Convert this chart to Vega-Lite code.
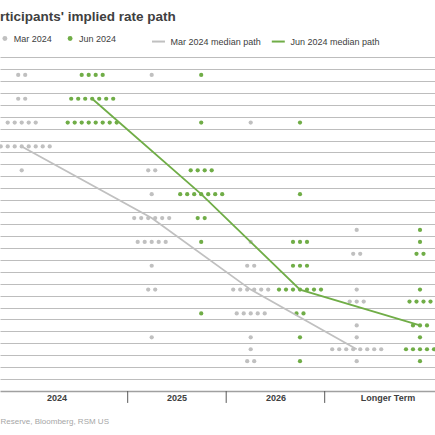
{
  "$schema": "https://vega.github.io/schema/vega-lite/v6.json",
  "width": 435,
  "height": 334,
  "autosize": "none",
  "padding": {"left": 0, "top": 57, "right": 0, "bottom": 44},
  "background": "white",
  "config": {"view": {"stroke": null}, "font": "Liberation Sans"},
  "title": {
    "text": "rticipants' implied rate path",
    "anchor": "start",
    "frame": "group",
    "fontSize": 13.5,
    "fontWeight": "bold",
    "color": "#404040",
    "offset": 10
  },
  "datasets": {
    "dots": [
      {"period": "2024", "release": "Mar 2024", "rate": 5.375, "n": 1},
      {"period": "2024", "release": "Mar 2024", "rate": 5.375, "n": 1},
      {"period": "2024", "release": "Mar 2024", "rate": 5.125, "n": 1},
      {"period": "2024", "release": "Mar 2024", "rate": 5.125, "n": 1},
      {"period": "2024", "release": "Mar 2024", "rate": 4.875, "n": 1},
      {"period": "2024", "release": "Mar 2024", "rate": 4.875, "n": 1},
      {"period": "2024", "release": "Mar 2024", "rate": 4.875, "n": 1},
      {"period": "2024", "release": "Mar 2024", "rate": 4.875, "n": 1},
      {"period": "2024", "release": "Mar 2024", "rate": 4.875, "n": 1},
      {"period": "2024", "release": "Mar 2024", "rate": 4.625, "n": 1},
      {"period": "2024", "release": "Mar 2024", "rate": 4.625, "n": 1},
      {"period": "2024", "release": "Mar 2024", "rate": 4.625, "n": 1},
      {"period": "2024", "release": "Mar 2024", "rate": 4.625, "n": 1},
      {"period": "2024", "release": "Mar 2024", "rate": 4.625, "n": 1},
      {"period": "2024", "release": "Mar 2024", "rate": 4.625, "n": 1},
      {"period": "2024", "release": "Mar 2024", "rate": 4.625, "n": 1},
      {"period": "2024", "release": "Mar 2024", "rate": 4.625, "n": 1},
      {"period": "2024", "release": "Mar 2024", "rate": 4.625, "n": 1},
      {"period": "2024", "release": "Mar 2024", "rate": 4.375, "n": 1},
      {"period": "2024", "release": "Jun 2024", "rate": 5.375, "n": 1},
      {"period": "2024", "release": "Jun 2024", "rate": 5.375, "n": 1},
      {"period": "2024", "release": "Jun 2024", "rate": 5.375, "n": 1},
      {"period": "2024", "release": "Jun 2024", "rate": 5.375, "n": 1},
      {"period": "2024", "release": "Jun 2024", "rate": 5.125, "n": 1},
      {"period": "2024", "release": "Jun 2024", "rate": 5.125, "n": 1},
      {"period": "2024", "release": "Jun 2024", "rate": 5.125, "n": 1},
      {"period": "2024", "release": "Jun 2024", "rate": 5.125, "n": 1},
      {"period": "2024", "release": "Jun 2024", "rate": 5.125, "n": 1},
      {"period": "2024", "release": "Jun 2024", "rate": 5.125, "n": 1},
      {"period": "2024", "release": "Jun 2024", "rate": 5.125, "n": 1},
      {"period": "2024", "release": "Jun 2024", "rate": 4.875, "n": 1},
      {"period": "2024", "release": "Jun 2024", "rate": 4.875, "n": 1},
      {"period": "2024", "release": "Jun 2024", "rate": 4.875, "n": 1},
      {"period": "2024", "release": "Jun 2024", "rate": 4.875, "n": 1},
      {"period": "2024", "release": "Jun 2024", "rate": 4.875, "n": 1},
      {"period": "2024", "release": "Jun 2024", "rate": 4.875, "n": 1},
      {"period": "2024", "release": "Jun 2024", "rate": 4.875, "n": 1},
      {"period": "2024", "release": "Jun 2024", "rate": 4.875, "n": 1},
      {"period": "2025", "release": "Mar 2024", "rate": 5.375, "n": 1},
      {"period": "2025", "release": "Mar 2024", "rate": 4.375, "n": 1},
      {"period": "2025", "release": "Mar 2024", "rate": 4.375, "n": 1},
      {"period": "2025", "release": "Mar 2024", "rate": 4.125, "n": 1},
      {"period": "2025", "release": "Mar 2024", "rate": 3.875, "n": 1},
      {"period": "2025", "release": "Mar 2024", "rate": 3.875, "n": 1},
      {"period": "2025", "release": "Mar 2024", "rate": 3.875, "n": 1},
      {"period": "2025", "release": "Mar 2024", "rate": 3.875, "n": 1},
      {"period": "2025", "release": "Mar 2024", "rate": 3.875, "n": 1},
      {"period": "2025", "release": "Mar 2024", "rate": 3.875, "n": 1},
      {"period": "2025", "release": "Mar 2024", "rate": 3.625, "n": 1},
      {"period": "2025", "release": "Mar 2024", "rate": 3.625, "n": 1},
      {"period": "2025", "release": "Mar 2024", "rate": 3.625, "n": 1},
      {"period": "2025", "release": "Mar 2024", "rate": 3.625, "n": 1},
      {"period": "2025", "release": "Mar 2024", "rate": 3.625, "n": 1},
      {"period": "2025", "release": "Mar 2024", "rate": 3.375, "n": 1},
      {"period": "2025", "release": "Mar 2024", "rate": 3.125, "n": 1},
      {"period": "2025", "release": "Mar 2024", "rate": 3.125, "n": 1},
      {"period": "2025", "release": "Mar 2024", "rate": 2.625, "n": 1},
      {"period": "2025", "release": "Jun 2024", "rate": 5.375, "n": 1},
      {"period": "2025", "release": "Jun 2024", "rate": 4.875, "n": 1},
      {"period": "2025", "release": "Jun 2024", "rate": 4.375, "n": 1},
      {"period": "2025", "release": "Jun 2024", "rate": 4.375, "n": 1},
      {"period": "2025", "release": "Jun 2024", "rate": 4.375, "n": 1},
      {"period": "2025", "release": "Jun 2024", "rate": 4.375, "n": 1},
      {"period": "2025", "release": "Jun 2024", "rate": 4.125, "n": 1},
      {"period": "2025", "release": "Jun 2024", "rate": 4.125, "n": 1},
      {"period": "2025", "release": "Jun 2024", "rate": 4.125, "n": 1},
      {"period": "2025", "release": "Jun 2024", "rate": 4.125, "n": 1},
      {"period": "2025", "release": "Jun 2024", "rate": 4.125, "n": 1},
      {"period": "2025", "release": "Jun 2024", "rate": 4.125, "n": 1},
      {"period": "2025", "release": "Jun 2024", "rate": 4.125, "n": 1},
      {"period": "2025", "release": "Jun 2024", "rate": 3.875, "n": 1},
      {"period": "2025", "release": "Jun 2024", "rate": 3.875, "n": 1},
      {"period": "2025", "release": "Jun 2024", "rate": 3.625, "n": 1},
      {"period": "2025", "release": "Jun 2024", "rate": 2.875, "n": 1},
      {"period": "2026", "release": "Mar 2024", "rate": 4.875, "n": 1},
      {"period": "2026", "release": "Mar 2024", "rate": 3.625, "n": 1},
      {"period": "2026", "release": "Mar 2024", "rate": 3.375, "n": 1},
      {"period": "2026", "release": "Mar 2024", "rate": 3.375, "n": 1},
      {"period": "2026", "release": "Mar 2024", "rate": 3.125, "n": 1},
      {"period": "2026", "release": "Mar 2024", "rate": 3.125, "n": 1},
      {"period": "2026", "release": "Mar 2024", "rate": 3.125, "n": 1},
      {"period": "2026", "release": "Mar 2024", "rate": 3.125, "n": 1},
      {"period": "2026", "release": "Mar 2024", "rate": 3.125, "n": 1},
      {"period": "2026", "release": "Mar 2024", "rate": 3.125, "n": 1},
      {"period": "2026", "release": "Mar 2024", "rate": 2.875, "n": 1},
      {"period": "2026", "release": "Mar 2024", "rate": 2.875, "n": 1},
      {"period": "2026", "release": "Mar 2024", "rate": 2.875, "n": 1},
      {"period": "2026", "release": "Mar 2024", "rate": 2.875, "n": 1},
      {"period": "2026", "release": "Mar 2024", "rate": 2.875, "n": 1},
      {"period": "2026", "release": "Mar 2024", "rate": 2.625, "n": 1},
      {"period": "2026", "release": "Mar 2024", "rate": 2.5, "n": 1},
      {"period": "2026", "release": "Mar 2024", "rate": 2.375, "n": 1},
      {"period": "2026", "release": "Mar 2024", "rate": 2.375, "n": 1},
      {"period": "2026", "release": "Jun 2024", "rate": 4.875, "n": 1},
      {"period": "2026", "release": "Jun 2024", "rate": 4.125, "n": 1},
      {"period": "2026", "release": "Jun 2024", "rate": 3.625, "n": 1},
      {"period": "2026", "release": "Jun 2024", "rate": 3.625, "n": 1},
      {"period": "2026", "release": "Jun 2024", "rate": 3.625, "n": 1},
      {"period": "2026", "release": "Jun 2024", "rate": 3.375, "n": 1},
      {"period": "2026", "release": "Jun 2024", "rate": 3.375, "n": 1},
      {"period": "2026", "release": "Jun 2024", "rate": 3.375, "n": 1},
      {"period": "2026", "release": "Jun 2024", "rate": 3.125, "n": 1},
      {"period": "2026", "release": "Jun 2024", "rate": 3.125, "n": 1},
      {"period": "2026", "release": "Jun 2024", "rate": 3.125, "n": 1},
      {"period": "2026", "release": "Jun 2024", "rate": 3.125, "n": 1},
      {"period": "2026", "release": "Jun 2024", "rate": 3.125, "n": 1},
      {"period": "2026", "release": "Jun 2024", "rate": 3.125, "n": 1},
      {"period": "2026", "release": "Jun 2024", "rate": 3.125, "n": 1},
      {"period": "2026", "release": "Jun 2024", "rate": 2.875, "n": 1},
      {"period": "2026", "release": "Jun 2024", "rate": 2.875, "n": 1},
      {"period": "2026", "release": "Jun 2024", "rate": 2.625, "n": 1},
      {"period": "2026", "release": "Jun 2024", "rate": 2.375, "n": 1},
      {"period": "Longer Term", "release": "Mar 2024", "rate": 3.75, "n": 1},
      {"period": "Longer Term", "release": "Mar 2024", "rate": 3.5, "n": 1},
      {"period": "Longer Term", "release": "Mar 2024", "rate": 3.5, "n": 1},
      {"period": "Longer Term", "release": "Mar 2024", "rate": 3.125, "n": 1},
      {"period": "Longer Term", "release": "Mar 2024", "rate": 3.0, "n": 1},
      {"period": "Longer Term", "release": "Mar 2024", "rate": 3.0, "n": 1},
      {"period": "Longer Term", "release": "Mar 2024", "rate": 3.0, "n": 1},
      {"period": "Longer Term", "release": "Mar 2024", "rate": 2.75, "n": 1},
      {"period": "Longer Term", "release": "Mar 2024", "rate": 2.625, "n": 1},
      {"period": "Longer Term", "release": "Mar 2024", "rate": 2.5, "n": 1},
      {"period": "Longer Term", "release": "Mar 2024", "rate": 2.5, "n": 1},
      {"period": "Longer Term", "release": "Mar 2024", "rate": 2.5, "n": 1},
      {"period": "Longer Term", "release": "Mar 2024", "rate": 2.5, "n": 1},
      {"period": "Longer Term", "release": "Mar 2024", "rate": 2.5, "n": 1},
      {"period": "Longer Term", "release": "Mar 2024", "rate": 2.5, "n": 1},
      {"period": "Longer Term", "release": "Mar 2024", "rate": 2.5, "n": 1},
      {"period": "Longer Term", "release": "Mar 2024", "rate": 2.5, "n": 1},
      {"period": "Longer Term", "release": "Mar 2024", "rate": 2.375, "n": 1},
      {"period": "Longer Term", "release": "Jun 2024", "rate": 3.75, "n": 1},
      {"period": "Longer Term", "release": "Jun 2024", "rate": 3.625, "n": 1},
      {"period": "Longer Term", "release": "Jun 2024", "rate": 3.5, "n": 1},
      {"period": "Longer Term", "release": "Jun 2024", "rate": 3.5, "n": 1},
      {"period": "Longer Term", "release": "Jun 2024", "rate": 3.125, "n": 1},
      {"period": "Longer Term", "release": "Jun 2024", "rate": 3.0, "n": 1},
      {"period": "Longer Term", "release": "Jun 2024", "rate": 3.0, "n": 1},
      {"period": "Longer Term", "release": "Jun 2024", "rate": 3.0, "n": 1},
      {"period": "Longer Term", "release": "Jun 2024", "rate": 3.0, "n": 1},
      {"period": "Longer Term", "release": "Jun 2024", "rate": 2.75, "n": 1},
      {"period": "Longer Term", "release": "Jun 2024", "rate": 2.75, "n": 1},
      {"period": "Longer Term", "release": "Jun 2024", "rate": 2.75, "n": 1},
      {"period": "Longer Term", "release": "Jun 2024", "rate": 2.625, "n": 1},
      {"period": "Longer Term", "release": "Jun 2024", "rate": 2.5, "n": 1},
      {"period": "Longer Term", "release": "Jun 2024", "rate": 2.5, "n": 1},
      {"period": "Longer Term", "release": "Jun 2024", "rate": 2.5, "n": 1},
      {"period": "Longer Term", "release": "Jun 2024", "rate": 2.5, "n": 1},
      {"period": "Longer Term", "release": "Jun 2024", "rate": 2.5, "n": 1},
      {"period": "Longer Term", "release": "Jun 2024", "rate": 2.375, "n": 1}
    ],
    "medians": [
      {"period": "2024", "release": "Mar 2024", "rate": 4.625},
      {"period": "2024", "release": "Jun 2024", "rate": 5.125},
      {"period": "2025", "release": "Mar 2024", "rate": 3.875},
      {"period": "2025", "release": "Jun 2024", "rate": 4.125},
      {"period": "2026", "release": "Mar 2024", "rate": 3.125},
      {"period": "2026", "release": "Jun 2024", "rate": 3.125},
      {"period": "Longer Term", "release": "Mar 2024", "rate": 2.5},
      {"period": "Longer Term", "release": "Jun 2024", "rate": 2.75}
    ],
    "periods": [
      {"period": "2024"},
      {"period": "2025"},
      {"period": "2026"},
      {"period": "Longer Term"}
    ]
  },
  "layer": [
    {
      "data": {"name": "dots"},
      "transform": [
        {"stack": "n", "groupby": ["period", "release", "rate"], "offset": "center", "as": ["s0", "s1"]}
      ],
      "encoding": {
        "y": {"field": "rate", "type": "quantitative", "axis": null, "scale": {"domain": [2.0625, 5.5625], "nice": false, "zero": false}},
        "xOffset": {"field": "s0", "type": "quantitative", "scale": {"domain": [-0.5, 9.5], "range": [-31.5, 38.5], "zero": false, "nice": false}},
        "color": {
          "field": "release",
          "type": "nominal",
          "scale": {"domain": ["Mar 2024", "Jun 2024"], "range": ["#c0c0c0", "#70ad47"]},
          "legend": {
            "orient": "none",
            "legendX": 0.4,
            "legendY": -23.2,
            "direction": "horizontal",
            "title": null,
            "padding": 0,
            "symbolType": "circle",
            "symbolSize": 24,
            "symbolStrokeWidth": 0,
            "symbolOpacity": 1,
            "labelFontSize": 9,
            "labelColor": "#404040",
            "labelOffset": 4.3,
            "columnPadding": 13.2
          }
        }
      },
      "layer": [
        {
          "transform": [{"filter": {"field": "period", "equal": "2024"}}],
          "mark": {"type": "circle", "size": 18, "opacity": 1},
          "encoding": {"x": {"field": "release", "type": "nominal", "axis": null, "scale": {"type": "band", "domain": ["Mar 2024", "Jun 2024"], "range": [21.7, 162.7], "paddingInner": 0, "paddingOuter": 0}}}
        },
        {
          "transform": [{"filter": {"field": "period", "equal": "2025"}}],
          "mark": {"type": "circle", "size": 18, "opacity": 1},
          "encoding": {"x": {"field": "release", "type": "nominal", "axis": null, "scale": {"type": "band", "domain": ["Mar 2024", "Jun 2024"], "range": [151.7, 250.7], "paddingInner": 0, "paddingOuter": 0}}}
        },
        {
          "transform": [{"filter": {"field": "period", "equal": "2026"}}],
          "mark": {"type": "circle", "size": 18, "opacity": 1},
          "encoding": {"x": {"field": "release", "type": "nominal", "axis": null, "scale": {"type": "band", "domain": ["Mar 2024", "Jun 2024"], "range": [250.7, 349.3], "paddingInner": 0, "paddingOuter": 0}}}
        },
        {
          "transform": [{"filter": {"field": "period", "equal": "Longer Term"}}],
          "mark": {"type": "circle", "size": 18, "opacity": 1},
          "encoding": {"x": {"field": "release", "type": "nominal", "axis": null, "scale": {"type": "band", "domain": ["Mar 2024", "Jun 2024"], "range": [356.7, 483.3], "paddingInner": 0, "paddingOuter": 0}}}
        }
      ],
      "resolve": {"scale": {"x": "independent"}, "axis": {"x": "independent"}}
    },
    {
      "data": {"name": "medians"},
      "transform": [
        {"window": [{"op": "row_number", "as": "g"}], "sort": [{"field": "period"}, {"field": "release", "order": "descending"}]}
      ],
      "mark": {"type": "line", "strokeWidth": 1.8},
      "encoding": {
        "x": {
          "field": "g",
          "type": "quantitative",
          "scale": {"domain": [0, 1, 2, 3, 4, 5, 6, 7, 8, 9], "range": [0, 21.7, 92.2, 151.7, 201.2, 250.7, 300, 356.7, 420, 435], "zero": false, "nice": false},
          "axis": {
            "orient": "bottom",
            "domain": false,
            "ticks": false,
            "labels": false,
            "grid": false,
            "title": "Reserve, Bloomberg, RSM US",
            "titleX": 0,
            "titleY": 32.5,
            "titleAlign": "left",
            "titleBaseline": "alphabetic",
            "titleFontSize": 8,
            "titleFontWeight": "normal",
            "titleColor": "#a6a6a6"
          }
        },
        "y": {
          "field": "rate",
          "type": "quantitative",
          "scale": {"domain": [2.0625, 5.5625], "nice": false, "zero": false},
          "axis": {
            "title": null,
            "labels": false,
            "ticks": false,
            "domain": false,
            "grid": true,
            "gridColor": {"condition": {"test": "datum.value < 2.1", "value": "#a0a0a0"}, "value": "#bdbdbd"},
            "gridWidth": {"condition": {"test": "datum.value < 2.1", "value": 1.5}, "value": 1.2},
            "values": [2.0625, 2.1875, 2.3125, 2.4375, 2.5625, 2.6875, 2.8125, 2.9375, 3.0625, 3.1875, 3.3125, 3.4375, 3.5625, 3.6875, 3.8125, 3.9375, 4.0625, 4.1875, 4.3125, 4.4375, 4.5625, 4.6875, 4.8125, 4.9375, 5.0625, 5.1875, 5.3125, 5.4375, 5.5625]
          }
        },
        "stroke": {
          "field": "release",
          "type": "nominal",
          "sort": "descending",
          "scale": {"range": ["#c0c0c0", "#70ad47"]},
          "legend": {
            "orient": "none",
            "legendX": 151,
            "legendY": -23.2,
            "direction": "horizontal",
            "title": null,
            "padding": 0,
            "symbolType": "stroke",
            "symbolSize": 169,
            "symbolStrokeWidth": 2,
            "labelExpr": "datum.label + ' median path'",
            "labelFontSize": 9,
            "labelColor": "#404040",
            "labelOffset": 4.6,
            "columnPadding": 6.8
          }
        }
      }
    },
    {
      "data": {"name": "periods"},
      "transform": [{"window": [{"op": "row_number", "as": "k"}]}],
      "mark": {"type": "text", "baseline": "middle", "dy": 6.6, "fontSize": 9, "fontWeight": "bold", "color": "#404040"},
      "encoding": {
        "x": {"field": "k", "type": "quantitative", "axis": null, "scale": {"domain": [1, 2, 3, 4], "range": [57, 177, 276, 388], "zero": false, "nice": false}},
        "y": {"datum": 2.0625, "axis": null},
        "text": {"field": "period"}
      }
    },
    {
      "data": {"name": "periods"},
      "transform": [{"filter": "datum.period != '2024'"}],
      "mark": {"type": "rule", "color": "#595959", "strokeWidth": 1},
      "encoding": {
        "x": {"field": "period", "type": "nominal", "axis": null, "scale": {"type": "point", "domain": ["2025", "2026", "Longer Term"], "range": [127.7, 324.7], "padding": 0}},
        "y": {"datum": 2.0625, "axis": null},
        "y2": {"datum": 1.9375}
      }
    }
  ],
  "resolve": {"scale": {"x": "independent"}, "axis": {"x": "independent", "y": "independent"}}
}
